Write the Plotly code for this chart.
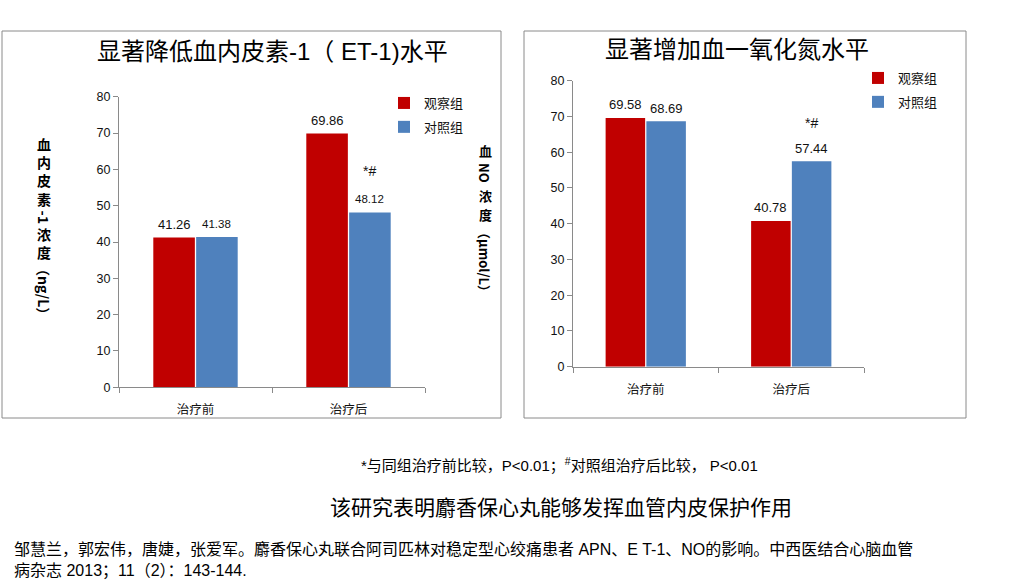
import plotly.graph_objects as go

# ---------------- data ----------------
categories = ["治疗前", "治疗后"]
series_names = ["观察组", "对照组"]
et1_observe = [41.26, 69.86]
et1_control = [41.38, 48.12]
no_observe = [69.58, 40.78]
no_control = [68.69, 57.44]
y_ticks = [0, 10, 20, 30, 40, 50, 60, 70, 80]

title_left = "显著降低血内皮素-1（ ET-1)水平"
title_right = "显著增加血一氧化氮水平"
footnote = "*与同组治疗前比较，P<0.01；<sup>#</sup>对照组治疗后比较， P<0.01"
conclusion = "该研究表明麝香保心丸能够发挥血管内皮保护作用"
reference = ("邹慧兰，郭宏伟，唐婕，张爱军。麝香保心丸联合阿司匹林对稳定型心绞痛患者 APN、E T-1、NO的影响。中西医结合心脑血管"
             "<br>病杂志 2013；11（2）：143-144.")
sig_mark = "*#"

RED = "#C00000"
BLUE = "#4F81BD"
GRAY = "#8a8a8a"
FONT = "Liberation Sans, Arial, Noto Sans CJK SC, sans-serif"
CJK = "Noto Sans CJK SC, Liberation Sans, sans-serif"

W, H = 1021, 585
BARGAP = 0.44


def px(p):
    return p / W


def py(p):
    return 1 - p / H


fig = go.Figure()

panels = [("x", "y", "legend", et1_observe, et1_control),
          ("x2", "y2", "legend2", no_observe, no_control)]
for xa, ya, lg, obs, ctl in panels:
    fig.add_trace(go.Bar(x=categories, y=obs, name=series_names[0], marker_color=RED,
                         xaxis=xa, yaxis=ya, legend=lg, legendgroup=lg + "a",
                         marker_line_width=0))
    fig.add_trace(go.Bar(x=categories, y=ctl, name=series_names[1], marker_color=BLUE,
                         xaxis=xa, yaxis=ya, legend=lg, legendgroup=lg + "b",
                         marker_line_width=0))

xcommon = dict(type="category", showline=True, linecolor=GRAY, linewidth=1, ticks="outside",
               tickson="boundaries", ticklen=5, tickcolor=GRAY, showgrid=False,
               tickfont=dict(size=12.5, color="#111", family=CJK), ticklabelstandoff=11,
               fixedrange=True, automargin=False)
ycommon = dict(range=[0, 80], tickvals=y_ticks, showline=True, linecolor=GRAY, linewidth=1,
               ticks="outside", ticklen=5, tickcolor=GRAY, showgrid=False, zeroline=False,
               tickfont=dict(size=12.5, color="#111"), fixedrange=True, automargin=False)

fig.update_layout(
    width=W, height=H, autosize=False,
    margin=dict(l=0, r=0, t=0, b=0, pad=0, autoexpand=False),
    paper_bgcolor="white", plot_bgcolor="white",
    font=dict(family=FONT, color="#111"),
    barmode="group", bargap=BARGAP, bargroupgap=0.03,
    xaxis=dict(domain=[px(119), px(425)], anchor="y", **xcommon),
    yaxis=dict(domain=[py(387.3), py(96.7)], anchor="x", **ycommon),
    xaxis2=dict(domain=[px(573), px(864)], anchor="y2", **xcommon),
    yaxis2=dict(domain=[py(366.7), py(80.7)], anchor="x2", **ycommon),
    legend=dict(x=px(384), y=py(88), xanchor="left", yanchor="top",
                font=dict(size=13, color="#111", family=CJK), bgcolor="rgba(0,0,0,0)",
                tracegroupgap=4, itemwidth=30),
    legend2=dict(x=px(858), y=py(63), xanchor="left", yanchor="top",
                 font=dict(size=13, color="#111", family=CJK), bgcolor="rgba(0,0,0,0)",
                 tracegroupgap=4, itemwidth=30),
    showlegend=True,
)

# panel boxes
for x0, x1 in [(2, 501), (524, 966)]:
    fig.add_shape(type="rect", xref="paper", yref="paper",
                  x0=px(x0), x1=px(x1), y0=py(418), y1=py(31),
                  line=dict(color=GRAY, width=1), fillcolor="rgba(0,0,0,0)", layer="below")

ann = []
# titles
ann.append(dict(text=title_left, x=px(272), y=py(51), font=dict(size=24, color="#000")))
ann.append(dict(text=title_right, x=px(737), y=py(49), font=dict(size=24, color="#000")))

# value labels above the bars
group_w = 1 - BARGAP
for xa, ya, obs, ctl, s_obs, s_ctl in [("x", "y", et1_observe, et1_control, 13, 11.5),
                                       ("x2", "y2", no_observe, no_control, 13, 13)]:
    for i in range(len(categories)):
        ann.append(dict(text=f"{obs[i]:.2f}", xref=xa, yref=ya, x=i - group_w / 4, y=obs[i],
                        yshift=13, font=dict(size=s_obs, color="#111")))
        ann.append(dict(text=f"{ctl[i]:.2f}", xref=xa, yref=ya, x=i + group_w / 4, y=ctl[i],
                        yshift=13, font=dict(size=s_ctl, color="#111")))

# significance marks above the control bars after treatment
ann.append(dict(text=sig_mark, xref="x", yref="y", x=1 + group_w / 4, y=et1_control[1],
                yshift=41, font=dict(size=14, color="#111")))
ann.append(dict(text=sig_mark, xref="x2", yref="y2", x=1 + group_w / 4, y=no_control[1],
                yshift=38, font=dict(size=14, color="#111")))


# vertical (East-Asian style) axis titles: upright CJK, rotated Latin runs
def vertical_title(xc, ytop, segments, size):
    y = ytop
    for text, rotated, length in segments:
        ann.append(dict(text=text, x=px(xc), y=py(y + length / 2), borderpad=0,
                        textangle=90 if rotated else 0,
                        font=dict(size=size, color="#000", family=CJK, weight="bold")))
        y += length


vertical_title(44, 134, [("血<br>内<br>皮<br>素", False, 75), ("-1", True, 15),
                         ("浓<br>度", False, 38), ("（ng/L）", True, 58)], 14)
vertical_title(485, 141, [("血", False, 19), ("NO", True, 26), ("浓", False, 19),
                          ("度", False, 19), ("（μmol/L）", True, 76)], 13)

# bottom texts
ann.append(dict(text=footnote, x=px(559), y=py(465), font=dict(size=15, color="#000")))
ann.append(dict(text=conclusion, x=px(561), y=py(507), font=dict(size=21, color="#000")))
ann.append(dict(text=reference, x=px(12), y=py(560), xanchor="left", align="left",
                font=dict(size=16, color="#000")))

for a in ann:
    a.setdefault("xref", "paper")
    a.setdefault("yref", "paper")
    a.setdefault("xanchor", "center")
    a.setdefault("yanchor", "middle")
    a["showarrow"] = False
fig.update_layout(annotations=ann)

fig.write_html("out.html", config={"responsive": False, "displayModeBar": False},
               post_script="document.body.style.margin='0px';document.body.style.overflow='hidden';")
